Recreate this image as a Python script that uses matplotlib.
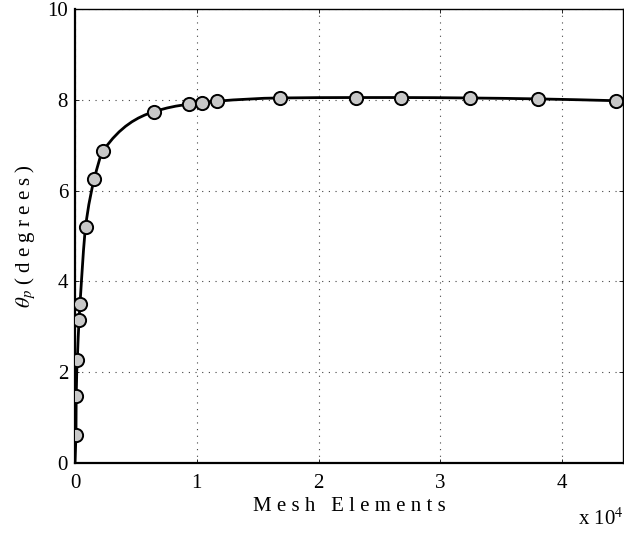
import numpy as np
import matplotlib
matplotlib.use("Agg")
import matplotlib.pyplot as plt
from matplotlib.path import Path
from matplotlib.patches import PathPatch

plt.rcParams['font.family'] = ['Liberation Serif', 'DejaVu Serif']
plt.rcParams['mathtext.fontset'] = 'stix'

mesh_elements = [80, 100, 190, 330, 410, 870, 1580, 2320, 6500, 9340, 10400,
                 11700, 16800, 23100, 26800, 32400, 38000, 44450]
theta_p = [0.62, 1.48, 2.27, 3.14, 3.50, 5.20, 6.25, 6.88, 7.74, 7.90, 7.92,
           7.97, 8.04, 8.05, 8.05, 8.04, 8.02, 7.98]
x_ticks = [0, 10000, 20000, 30000, 40000]
x_tick_labels = ['0', '1', '2', '3', '4']
y_ticks = [0, 2, 4, 6, 8, 10]

fig = plt.figure(figsize=(6.24, 5.36), dpi=100)
ax = fig.add_axes([0.1202, 0.1362, 0.8782, 0.8470])

# smooth monotone cubic (PCHIP-style) curve drawn as Bezier path
x = np.asarray(mesh_elements, float)
y = np.asarray(theta_p, float)
h = np.diff(x)
d = np.diff(y) / h
m = np.zeros_like(y)
for k in range(1, len(y) - 1):
    if d[k - 1] * d[k] <= 0:
        m[k] = 0.0
    else:
        w1 = 2 * h[k] + h[k - 1]
        w2 = h[k] + 2 * h[k - 1]
        m[k] = (w1 + w2) / (w1 / d[k - 1] + w2 / d[k])
m[0] = d[0]
m[-1] = d[-1]
verts = [(x[0], y[0])]
codes = [Path.MOVETO]
for k in range(len(x) - 1):
    hk = h[k]
    verts += [(x[k] + hk / 3, y[k] + m[k] * hk / 3),
              (x[k + 1] - hk / 3, y[k + 1] - m[k + 1] * hk / 3),
              (x[k + 1], y[k + 1])]
    codes += [Path.CURVE4] * 3
verts = [(0, 0)] + verts
codes = [Path.MOVETO, Path.LINETO] + codes[1:]
ax.add_patch(PathPatch(Path(verts, codes), facecolor='none', edgecolor='black',
                       lw=2.0, zorder=3))

ax.plot(mesh_elements, theta_p, linestyle='none', marker='o', markersize=9.5,
        markerfacecolor='#c8c8c8', markeredgecolor='black', markeredgewidth=1.4,
        zorder=4)

ax.set_xlim(0, 45000)
ax.set_ylim(0, 10)
ax.set_xticks(x_ticks)
ax.set_xticklabels(x_tick_labels)
ax.set_yticks(y_ticks)
ax.grid(True, color='#444444', linestyle=(0, (1, 5)), linewidth=0.8)
ax.tick_params(direction='in', top=True, right=True, labelsize=15,
               length=3, width=0.6, pad=5)
ax.tick_params(axis='x', pad=8)
for s in ax.spines.values():
    s.set_linewidth(1.0)
ax.spines['left'].set_linewidth(1.6)
ax.spines['bottom'].set_linewidth(1.6)

ax.set_xlabel('M e s h   E l e m e n t s', fontsize=15, labelpad=3)
ax.set_ylabel(r'$\theta_p$ ( d e g r e e s )', fontsize=15, labelpad=7)
fig.text(0.999, 0.012, r'x 10$^{4}$', ha='right', va='bottom', fontsize=15)

fig.savefig('out.png', dpi=100)
